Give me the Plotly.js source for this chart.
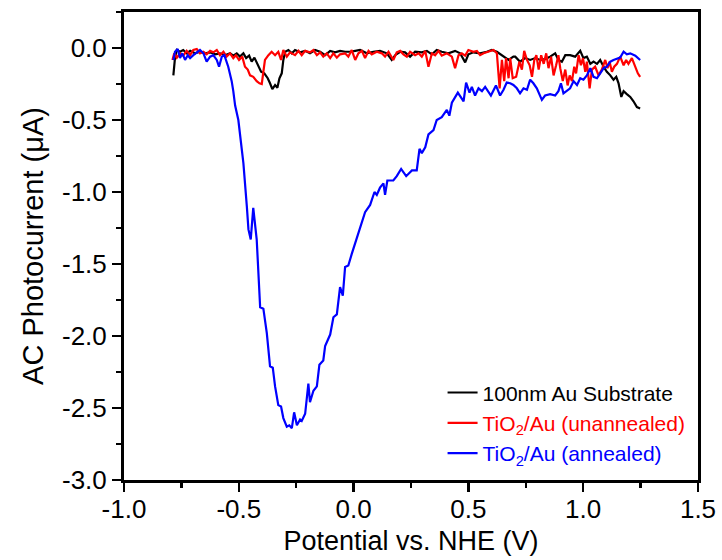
<!DOCTYPE html>
<html>
<head>
<meta charset="utf-8">
<script src="https://cdn.plot.ly/plotly-3.0.1.min.js"></script>
<style>html,body{margin:0;padding:0;background:#fff;}#chart{width:722px;height:560px;}</style>
</head>
<body>
<div id="chart"></div>
<script>
// 100nm Au Substrate (black)
const auX = [-0.785,-0.778,-0.770,-0.756,-0.742,-0.727,-0.712,-0.691,-0.669,-0.647,-0.625,-0.603,-0.582,-0.560,-0.538,-0.524,-0.509,-0.495,-0.480,-0.468,-0.455,-0.444,-0.432,-0.418,-0.403,-0.389,-0.374,-0.364,-0.354,-0.342,-0.332,-0.323,-0.313,-0.306,-0.298,-0.284,-0.269,-0.255,-0.233,-0.211,-0.190,-0.168,-0.146,-0.124,-0.102,-0.081,-0.059,-0.037,-0.015,0.007,0.028,0.058,0.086,0.115,0.145,0.166,0.181,0.203,0.224,0.246,0.268,0.297,0.319,0.341,0.362,0.384,0.413,0.442,0.464,0.486,0.500,0.522,0.551,0.580,0.602,0.624,0.653,0.675,0.696,0.704,0.725,0.747,0.769,0.791,0.813,0.834,0.856,0.878,0.892,0.907,0.922,0.943,0.965,0.987,1.001,1.016,1.031,1.045,1.060,1.074,1.089,1.103,1.118,1.132,1.144,1.154,1.166,1.176,1.190,1.205,1.219,1.234,1.248];
const auY = [-0.19,-0.07,-0.014,-0.026,-0.014,-0.037,-0.02,-0.037,-0.026,-0.037,-0.03,-0.044,-0.037,-0.05,-0.037,-0.053,-0.037,-0.06,-0.037,-0.07,-0.053,-0.095,-0.067,-0.12,-0.165,-0.176,-0.21,-0.245,-0.285,-0.257,-0.276,-0.21,-0.176,-0.083,-0.026,-0.014,-0.037,-0.014,-0.03,-0.02,-0.037,-0.014,-0.026,-0.05,-0.02,-0.03,-0.02,-0.026,-0.026,-0.02,-0.014,-0.037,-0.026,-0.02,-0.037,-0.083,-0.05,-0.026,-0.03,-0.06,-0.026,-0.03,-0.02,-0.044,-0.014,-0.026,-0.037,-0.02,-0.037,-0.10,-0.044,-0.03,-0.037,-0.026,-0.014,-0.026,-0.06,-0.083,-0.06,-0.06,-0.095,-0.07,-0.083,-0.07,-0.083,-0.077,-0.06,-0.037,-0.083,-0.095,-0.05,-0.05,-0.06,-0.02,-0.07,-0.06,-0.11,-0.095,-0.11,-0.083,-0.13,-0.165,-0.19,-0.22,-0.20,-0.245,-0.34,-0.30,-0.32,-0.34,-0.37,-0.41,-0.42];

// TiO2/Au (unannealed) (red)
const unX = [-0.789,-0.781,-0.770,-0.756,-0.742,-0.727,-0.712,-0.698,-0.683,-0.669,-0.654,-0.640,-0.625,-0.611,-0.596,-0.582,-0.567,-0.553,-0.538,-0.524,-0.513,-0.499,-0.485,-0.473,-0.461,-0.451,-0.437,-0.422,-0.410,-0.400,-0.393,-0.386,-0.371,-0.357,-0.342,-0.328,-0.316,-0.306,-0.291,-0.277,-0.255,-0.240,-0.226,-0.211,-0.190,-0.175,-0.160,-0.146,-0.132,-0.117,-0.102,-0.088,-0.073,-0.059,-0.037,-0.023,-0.008,0.007,0.021,0.036,0.050,0.065,0.079,0.101,0.123,0.137,0.152,0.173,0.188,0.203,0.217,0.232,0.246,0.268,0.283,0.297,0.312,0.326,0.341,0.355,0.370,0.384,0.406,0.428,0.442,0.457,0.471,0.486,0.500,0.522,0.537,0.551,0.566,0.588,0.609,0.624,0.636,0.646,0.656,0.664,0.675,0.682,0.693,0.708,0.722,0.733,0.743,0.755,0.767,0.777,0.787,0.796,0.806,0.817,0.828,0.839,0.849,0.860,0.871,0.882,0.892,0.900,0.911,0.922,0.932,0.941,0.951,0.961,0.969,0.980,0.990,0.999,1.009,1.016,1.028,1.038,1.052,1.067,1.081,1.096,1.106,1.115,1.125,1.135,1.147,1.161,1.176,1.187,1.197,1.212,1.227,1.238,1.248];
const unY = [-0.083,-0.037,-0.067,-0.037,-0.053,-0.02,-0.05,-0.014,-0.007,-0.037,-0.026,-0.044,-0.02,-0.03,-0.014,-0.05,-0.026,-0.06,-0.037,-0.07,-0.05,-0.083,-0.06,-0.13,-0.15,-0.19,-0.20,-0.23,-0.245,-0.25,-0.165,-0.083,-0.05,-0.026,-0.05,-0.026,-0.083,-0.014,-0.06,-0.03,-0.05,-0.02,-0.05,-0.02,-0.03,-0.014,-0.05,-0.03,-0.06,-0.037,-0.07,-0.037,-0.067,-0.044,-0.037,-0.06,-0.014,-0.083,-0.037,-0.02,-0.07,-0.02,-0.044,-0.026,-0.037,-0.06,-0.026,-0.083,-0.03,-0.02,-0.044,-0.06,-0.026,-0.05,-0.037,-0.06,-0.02,-0.13,-0.037,-0.05,-0.02,-0.053,-0.037,-0.06,-0.14,-0.05,-0.037,-0.053,-0.014,-0.026,-0.02,-0.05,-0.037,-0.026,-0.014,-0.037,-0.28,-0.083,-0.23,-0.07,-0.21,-0.07,-0.21,-0.20,-0.095,-0.15,-0.02,-0.083,-0.12,-0.20,-0.083,-0.05,-0.15,-0.05,-0.11,-0.037,-0.14,-0.06,-0.19,-0.12,-0.05,-0.14,-0.23,-0.15,-0.26,-0.19,-0.23,-0.13,-0.176,-0.05,-0.12,-0.07,-0.165,-0.095,-0.28,-0.15,-0.13,-0.19,-0.15,-0.083,-0.14,-0.095,-0.165,-0.13,-0.11,-0.06,-0.12,-0.083,-0.11,-0.07,-0.13,-0.176,-0.20];

// TiO2/Au (annealed) (blue)
const anX = [-0.785,-0.778,-0.766,-0.756,-0.746,-0.734,-0.722,-0.712,-0.698,-0.683,-0.669,-0.654,-0.640,-0.625,-0.611,-0.596,-0.586,-0.574,-0.563,-0.546,-0.531,-0.524,-0.516,-0.502,-0.480,-0.465,-0.458,-0.448,-0.437,-0.422,-0.407,-0.393,-0.378,-0.364,-0.352,-0.342,-0.328,-0.316,-0.306,-0.291,-0.280,-0.269,-0.259,-0.247,-0.233,-0.226,-0.211,-0.197,-0.190,-0.175,-0.160,-0.149,-0.132,-0.124,-0.102,-0.088,-0.073,-0.059,-0.047,-0.037,-0.023,-0.008,0.014,0.036,0.050,0.072,0.091,0.101,0.115,0.130,0.137,0.147,0.173,0.188,0.207,0.229,0.254,0.275,0.287,0.297,0.312,0.326,0.348,0.362,0.384,0.406,0.417,0.428,0.454,0.479,0.490,0.505,0.515,0.529,0.544,0.559,0.573,0.598,0.620,0.638,0.653,0.667,0.682,0.696,0.711,0.725,0.740,0.755,0.769,0.783,0.798,0.820,0.834,0.856,0.878,0.892,0.903,0.914,0.932,0.943,0.958,0.973,0.987,1.001,1.016,1.031,1.045,1.060,1.074,1.089,1.103,1.118,1.132,1.147,1.161,1.176,1.190,1.205,1.227,1.248];
const anY = [-0.083,-0.026,-0.007,-0.07,-0.037,-0.083,-0.05,-0.07,-0.05,-0.03,-0.014,-0.037,-0.095,-0.06,-0.05,-0.083,-0.13,-0.06,-0.05,-0.13,-0.23,-0.30,-0.40,-0.50,-0.80,-1.10,-1.26,-1.33,-1.11,-1.33,-1.80,-1.81,-1.98,-2.21,-2.22,-2.35,-2.48,-2.49,-2.57,-2.63,-2.62,-2.64,-2.53,-2.62,-2.58,-2.59,-2.54,-2.33,-2.46,-2.38,-2.35,-2.20,-2.17,-2.07,-1.99,-1.87,-1.85,-1.66,-1.72,-1.52,-1.51,-1.43,-1.32,-1.22,-1.14,-1.09,-1.00,-1.02,-0.97,-0.94,-1.02,-0.92,-0.92,-0.89,-0.84,-0.89,-0.85,-0.85,-0.70,-0.73,-0.69,-0.60,-0.57,-0.50,-0.48,-0.43,-0.47,-0.38,-0.31,-0.37,-0.24,-0.31,-0.27,-0.33,-0.28,-0.30,-0.27,-0.33,-0.26,-0.33,-0.29,-0.24,-0.245,-0.257,-0.28,-0.315,-0.28,-0.29,-0.22,-0.245,-0.28,-0.36,-0.33,-0.32,-0.33,-0.30,-0.245,-0.315,-0.29,-0.28,-0.23,-0.257,-0.21,-0.22,-0.19,-0.14,-0.20,-0.21,-0.176,-0.14,-0.13,-0.095,-0.083,-0.076,-0.067,-0.026,-0.044,-0.037,-0.053,-0.083];

const seriesNames = [
  '<span style="color:#000000">100nm Au Substrate</span>',
  '<span style="color:#ff0000">TiO<sub>2</sub>/Au (unannealed)</span>',
  '<span style="color:#0000ff">TiO<sub>2</sub>/Au (annealed)</span>'
];
const seriesColors = ['#000000', '#ff0000', '#0000ff'];
const xTitle = 'Potential vs. NHE (V)';
const yTitle = 'AC Photocurrent (\u03bcA)';

// tick labels (ASCII hyphen as in the reference)
const xTickVals = [-1.0, -0.5, 0.0, 0.5, 1.0, 1.5];
const xTickText = ['-1.0', '-0.5', '0.0', '0.5', '1.0', '1.5'];
const yTickVals = [0.0, -0.5, -1.0, -1.5, -2.0, -2.5, -3.0];
const yTickText = ['0.0', '-0.5', '-1.0', '-1.5', '-2.0', '-2.5', '-3.0'];

const FONT = 'Arial, "Liberation Sans", sans-serif';

const traces = [
  {x: auX, y: auY, name: seriesNames[0], line: {color: seriesColors[0], width: 2.2}},
  {x: unX, y: unY, name: seriesNames[1], line: {color: seriesColors[1], width: 2.2}},
  {x: anX, y: anY, name: seriesNames[2], line: {color: seriesColors[2], width: 2.2}}
].map(t => Object.assign({type: 'scatter', mode: 'lines'}, t));

const minorCommon = {ticks: 'outside', ticklen: 5, tickwidth: 2.5, tickcolor: '#000', showgrid: false, dtick: 0.25, tick0: 0};

const axisCommon = {
  showline: true, linecolor: '#000', linewidth: 3, mirror: true,
  ticks: 'outside', ticklen: 9, tickwidth: 2.5, tickcolor: '#000',
  showgrid: false, zeroline: false,
  tickmode: 'array',
  tickfont: {family: FONT, size: 26, color: '#000'}
};

const layout = {
  width: 722, height: 560,
  margin: {l: 124, r: 24, t: 12, b: 80},
  paper_bgcolor: '#fff', plot_bgcolor: '#fff',
  font: {family: FONT, color: '#000'},
  showlegend: true,
  legend: {x: 0.555, xanchor: 'left', y: 0.23, yanchor: 'top', bgcolor: 'rgba(0,0,0,0)',
           font: {family: FONT, size: 21}, tracegroupgap: 0, itemwidth: 30},
  xaxis: Object.assign({}, axisCommon, {
    range: [-1.0, 1.5], tickvals: xTickVals, ticktext: xTickText,
    ticklabelstandoff: -5,
    minor: minorCommon,
    title: {text: xTitle, font: {family: FONT, size: 27}, standoff: 8}
  }),
  yaxis: Object.assign({}, axisCommon, {
    range: [-3.0, 0.25], tickvals: yTickVals, ticktext: yTickText,
    minor: minorCommon,
    title: {text: yTitle, font: {family: FONT, size: 29}, standoff: 10}
  })
};

Plotly.newPlot('chart', traces, layout, {displayModeBar: false, staticPlot: true});
</script>
</body>
</html>
